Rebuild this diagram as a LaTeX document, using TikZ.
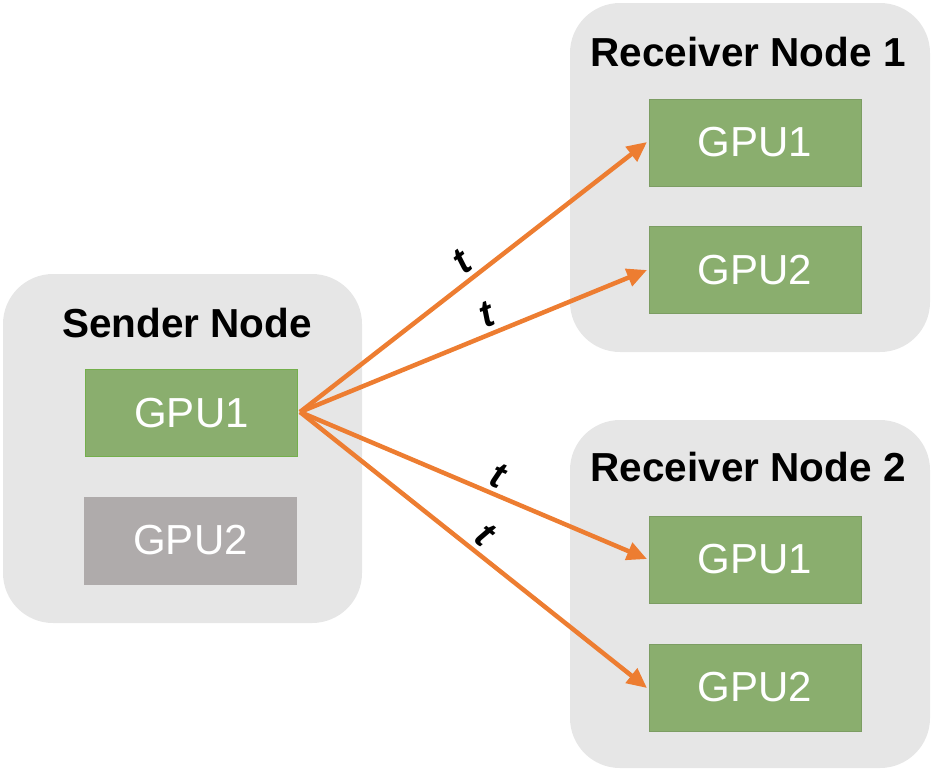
\documentclass[tikz,border=0pt]{standalone}
\usepackage{fontspec}
\setmainfont{Liberation Sans}
\usetikzlibrary{arrows.meta}
\definecolor{boxgray}{HTML}{E6E6E6}
\definecolor{gpugreen}{HTML}{8AAE6E}
\definecolor{gpuedge}{HTML}{74AF4C}
\definecolor{gpugray}{HTML}{AFABAB}
\definecolor{arroworange}{HTML}{ED7D31}
\tikzset{
  container/.style={fill=boxgray, draw=none, rounded corners=50pt},
  title/.style={font=\fontsize{40.5}{44}\selectfont\bfseries, text=black},
  gpubox/.style={fill=gpugreen, draw=gpugreen!90!black, line width=1pt, minimum width=212pt, minimum height=87pt, inner sep=0pt, text=white, font=\fontsize{42}{45}\selectfont},
  gpuidle/.style={gpubox, fill=gpugray, draw=gpugray},
  flow/.style={draw=arroworange, line width=4.5pt, -{Triangle[length=20pt,width=18pt]}},
  tlabel/.style={font=\fontsize{38}{40}\selectfont\bfseries\itshape, text=black, sloped, above, inner sep=4pt}
}
\begin{document}
\begin{tikzpicture}[x=1pt,y=-1pt]
\useasboundingbox (0,0) rectangle (934,772);
% containers
\path[container] (3,274) rectangle (362,623);
\path[container] (570,3) rectangle (930,352);
\path[container] (570,420) rectangle (930,768);
% titles
\node[title] (tS) at (187,323) {Sender Node};
\node[title] (tR1) at (748,52) {Receiver Node 1};
\node[title] (tR2) at (748,467) {Receiver Node 2};
% GPUs
\node[gpubox, draw=gpuedge] (s1) at (191.5,413) {GPU1};
\node[gpuidle] (s2) at (190.5,540.5) {GPU2};
\node[gpubox] (a1) at (755,142.5) {GPU1};
\node[gpubox] (a2) at (755,270) {GPU2};
\node[gpubox] (b1) at (755,559.5) {GPU1};
\node[gpubox] (b2) at (755,687.5) {GPU2};
% arrows
\coordinate (src) at (300,412);
\coordinate (e1) at (647,142);
\coordinate (e2) at (647,270);
\coordinate (e3) at (647,559);
\coordinate (e4) at (647,688);
\draw[flow] (src) -- node[tlabel, pos=0.5] (l1) {t} (e1);
\draw[flow] (src) -- node[tlabel, pos=0.56] (l2) {t} (e2);
\draw[flow] (src) -- node[tlabel, pos=0.55] (l3) {t} (e3);
\draw[flow] (src) -- node[tlabel, pos=0.5] (l4) {t} (e4);
\end{tikzpicture}
\end{document}
